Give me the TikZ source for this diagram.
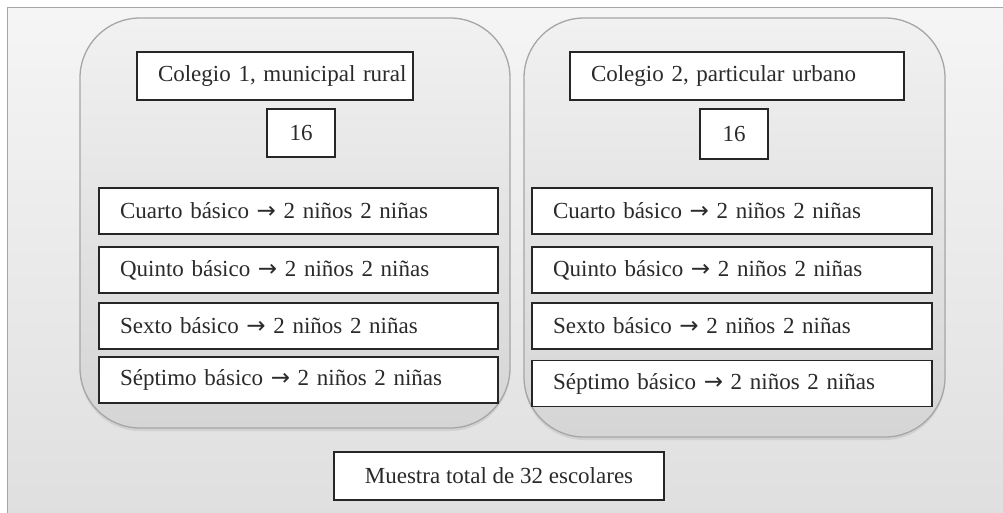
\documentclass[tikz,border=0pt]{standalone}
\usepackage{fontspec}
\setmainfont{Liberation Serif}
\newfontfamily\arrowfont{DejaVu Sans}
\newcommand{\flecha}{{\arrowfont →}}
\usetikzlibrary{shadows}
\definecolor{framegray}{HTML}{A6A6A6}
\definecolor{bgtop}{HTML}{F5F5F5}
\definecolor{bgbot}{HTML}{DFDFDF}
\definecolor{paneltop}{HTML}{F1F1F1}
\definecolor{panelbot}{HTML}{D5D5D5}
\definecolor{boxline}{HTML}{262626}
\definecolor{ink}{HTML}{2A2A2A}

\begin{document}
\begin{tikzpicture}[x=1pt,y=-1pt,
  every node/.style={font=\fontsize{23}{27}\selectfont, text=ink},
  panel/.style={draw=framegray, line width=1.3pt, rounded corners=60pt,
    top color=paneltop, bottom color=panelbot,
    drop shadow={shadow xshift=0pt, shadow yshift=-3pt, opacity=0.18}},
  titlebox/.style={draw=boxline, fill=white, line width=1.3pt, inner xsep=21pt, inner ysep=0pt,
    minimum height=48pt, align=left},
  numbox/.style={draw=boxline, fill=white, line width=1.3pt, inner sep=0pt,
    minimum width=68pt, minimum height=48pt},
  rowbox/.style={draw=boxline, fill=white, line width=1.3pt, inner xsep=21pt, inner ysep=0pt,
    minimum height=46pt, align=left}]
\useasboundingbox (0,0) rectangle (1003,512);
% background frame
\fill[white] (0,0) rectangle (1003,512);
\shade[top color=bgtop, bottom color=bgbot] (7,7) rectangle (1010,520);
\draw[framegray, line width=1pt] (7,520) -- (7,7) -- (1010,7);
% the two schools
\draw[panel] (80,18) rectangle (510,428);
\draw[panel] (524,18) rectangle (945,437);
% colegio 1
\node[titlebox, text width=234pt] (tit1) at (275,76) {\mbox{Colegio 1, municipal rural}};
\node[numbox] (num1) at (301,133) {16};
\node[rowbox, text width=357pt] (cuarto1) at (298.5,211) {Cuarto básico \flecha{} 2 niños 2 niñas};
\node[rowbox, text width=357pt] (quinto1) at (298.5,270) {Quinto básico \flecha{} 2 niños 2 niñas};
\node[rowbox, text width=357pt] (sexto1) at (298.5,326) {Sexto básico \flecha{} 2 niños 2 niñas};
\node[rowbox, text width=357pt] (septimo1) at (298.5,380) {Séptimo básico \flecha{} 2 niños 2 niñas};
% colegio 2
\node[titlebox, text width=292pt] (tit2) at (737,76) {\mbox{Colegio 2, particular urbano}};
\node[numbox, minimum height=50pt] (num2) at (734,134) {16};
\node[rowbox, text width=358pt] (cuarto2) at (732,211) {Cuarto básico \flecha{} 2 niños 2 niñas};
\node[rowbox, text width=358pt] (quinto2) at (732,270) {Quinto básico \flecha{} 2 niños 2 niñas};
\node[rowbox, text width=358pt] (sexto2) at (732,326) {Sexto básico \flecha{} 2 niños 2 niñas};
\node[rowbox, text width=358pt] (septimo2) at (732,383.5) {Séptimo básico \flecha{} 2 niños 2 niñas};
% total
\node[numbox, minimum width=330pt] (total) at (499,476) {Muestra total de 32 escolares};
\end{tikzpicture}
\end{document}
